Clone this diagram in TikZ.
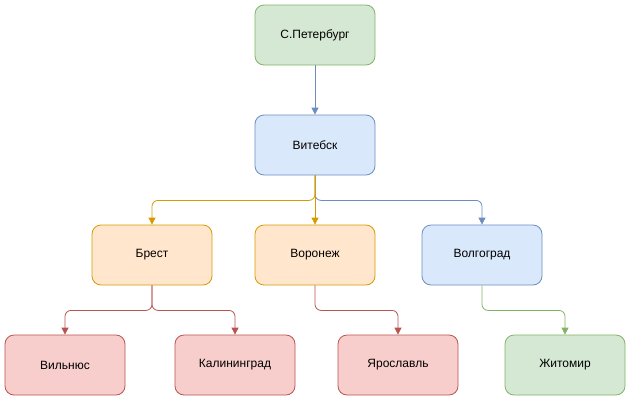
\documentclass[tikz,border=0pt]{standalone}
\usepackage{fontspec}
\setmainfont{Liberation Sans}
\usetikzlibrary{arrows.meta}
\definecolor{gfill}{HTML}{D5E8D4}\definecolor{gline}{HTML}{82B366}
\definecolor{bfill}{HTML}{DAE8FC}\definecolor{bline}{HTML}{6C8EBF}
\definecolor{ofill}{HTML}{FFE6CC}\definecolor{oline}{HTML}{D79B00}
\definecolor{rfill}{HTML}{F8CECC}\definecolor{rline}{HTML}{B85450}
\begin{document}
\begin{tikzpicture}[x=1pt,y=-1pt,
  box/.style={draw,rounded corners=9pt,minimum width=120pt,minimum height=60pt,
    inner sep=0pt,line width=0.8pt,font=\fontsize{12}{14}\selectfont},
  gbox/.style={box,fill=gfill,draw=gline},
  bbox/.style={box,fill=bfill,draw=bline},
  obox/.style={box,fill=ofill,draw=oline},
  rbox/.style={box,fill=rfill,draw=rline},
  edge/.style={line width=0.8pt,rounded corners=6pt,-{Triangle[length=7pt,width=7pt]}}]
\useasboundingbox (0,0) rectangle (631,402);
\node[gbox] (spb) at (315,35) {С.Петербург};
\node[bbox] (vit) at (315,145) {Витебск};
\node[obox] (bre) at (152,255) {Брест};
\node[obox] (vor) at (315,255) {Воронеж};
\node[bbox] (vol) at (482,255) {Волгоград};
\node[rbox] (vil) at (65,365) {Вильнюс};
\node[rbox] (kal) at (235,365) {Калининград};
\node[rbox] (yar) at (398,365) {Ярославль};
\node[gbox] (zhi) at (565,365) {Житомир};
\draw[edge,bline] (spb) -- (vit);
\draw[edge,bline] (vit.south) -- ++(0,25) -| (vol.north);
\draw[edge,oline] (vit.south) -- ++(0,25) -| (bre.north);
\draw[edge,oline] (vit.south) -- (vor.north);
\draw[edge,rline] (bre.south) -- ++(0,25) -| (vil.north);
\draw[edge,rline] (bre.south) -- ++(0,25) -| (kal.north);
\draw[edge,rline] (vor.south) -- ++(0,25) -| (yar.north);
\draw[edge,gline] (vol.south) -- ++(0,25) -| (zhi.north);
\end{tikzpicture}
\end{document}
